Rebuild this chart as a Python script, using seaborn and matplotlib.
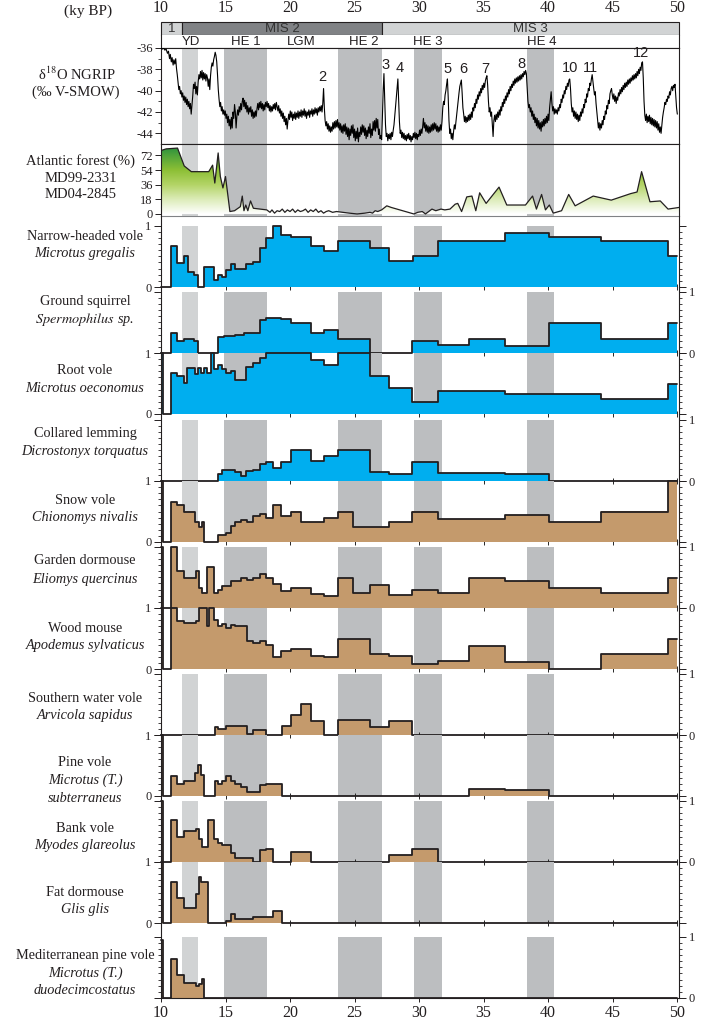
import numpy as np
import matplotlib
matplotlib.use('Agg')
import matplotlib.pyplot as plt
from matplotlib.colors import LinearSegmentedColormap
import seaborn as sns

sns.set_style('white')
plt.rcParams['font.family'] = ['Liberation Serif', 'DejaVu Serif']
plt.rcParams['mathtext.fontset'] = 'stix'
plt.rcParams['axes.linewidth'] = 0.8
plt.rcParams['axes.edgecolor'] = '#231f20'
plt.rcParams['axes.unicode_minus'] = False
SANS = ['Liberation Sans', 'DejaVu Sans']
INK = '#231f20'

# ---------------- data ----------------
x_ticks = [10, 15, 20, 25, 30, 35, 40, 45, 50]
mis_edges = [10, 11.6, 27.15, 50.15]
mis_labels = ['1', 'MIS 2', 'MIS 3']
mis_label_x = [10.8, 19.4, 38.6]
yd_band = (11.65, 12.9)
he_bands = [(14.9, 18.2), (23.7, 27.15), (29.6, 31.8), (38.4, 40.5)]
event_labels = ['YD', 'HE 1', 'LGM', 'HE 2', 'HE 3', 'HE 4']
event_x = [12.34, 16.6, 20.9, 25.7, 30.7, 39.55]
is_labels = ['2', '3', '4', '5', '6', '7', '8', '10', '11', '12']
is_x = [22.53, 27.44, 28.47, 32.2, 33.4, 35.17, 37.96, 41.7, 43.3, 47.2]
is_y = [-38.7, -37.6, -37.9, -38.0, -38.0, -38.0, -37.5, -37.9, -37.9, -36.5]

d18o_age = [
    10.00, 10.10, 10.20, 10.30, 10.40, 10.50, 10.58, 10.66, 10.72, 10.80,
    10.86, 10.94, 11.00, 11.07, 11.14, 11.20, 11.26, 11.32, 11.38, 11.44,
    11.50, 11.56, 11.62, 11.68, 11.74, 11.80, 11.86, 11.92, 11.98, 12.04,
    12.10, 12.16, 12.22, 12.28, 12.34, 12.40, 12.46, 12.52, 12.58, 12.64,
    12.70, 12.76, 12.82, 12.88, 12.94, 13.00, 13.06, 13.12, 13.18, 13.24,
    13.30, 13.36, 13.42, 13.48, 13.54, 13.60, 13.66, 13.72, 13.78, 13.84,
    13.90, 13.96, 14.02, 14.08, 14.14, 14.20, 14.26, 14.32, 14.38, 14.44,
    14.50, 14.56, 14.62, 14.68, 14.74, 14.80, 14.86, 14.92, 14.98, 15.04,
    15.10, 15.16, 15.22, 15.28, 15.34, 15.40, 15.46, 15.52, 15.58, 15.64,
    15.70, 15.76, 15.82, 15.88, 15.94, 16.00, 16.06, 16.12, 16.18, 16.24,
    16.30, 16.36, 16.42, 16.48, 16.54, 16.60, 16.66, 16.72, 16.78, 16.84,
    16.90, 16.96, 17.02, 17.08, 17.14, 17.20, 17.26, 17.32, 17.38, 17.44,
    17.50, 17.56, 17.62, 17.68, 17.74, 17.80, 17.86, 17.92, 17.98, 18.04,
    18.10, 18.16, 18.22, 18.28, 18.34, 18.40, 18.46, 18.52, 18.58, 18.64,
    18.70, 18.76, 18.82, 18.88, 18.94, 19.00, 19.06, 19.12, 19.18, 19.24,
    19.30, 19.36, 19.42, 19.48, 19.54, 19.60, 19.66, 19.72, 19.78, 19.84,
    19.90, 19.96, 20.02, 20.08, 20.14, 20.20, 20.26, 20.32, 20.38, 20.44,
    20.50, 20.56, 20.62, 20.68, 20.74, 20.80, 20.86, 20.92, 20.98, 21.04,
    21.10, 21.16, 21.22, 21.28, 21.34, 21.40, 21.46, 21.52, 21.58, 21.64,
    21.70, 21.76, 21.82, 21.88, 21.94, 22.00, 22.06, 22.12, 22.18, 22.24,
    22.30, 22.36, 22.42, 22.48, 22.54, 22.60, 22.66, 22.72, 22.78, 22.84,
    22.90, 22.96, 23.02, 23.08, 23.14, 23.20, 23.26, 23.32, 23.38, 23.44,
    23.50, 23.56, 23.62, 23.68, 23.74, 23.80, 23.86, 23.92, 23.98, 24.04,
    24.10, 24.16, 24.22, 24.28, 24.34, 24.40, 24.46, 24.52, 24.58, 24.64,
    24.70, 24.76, 24.82, 24.88, 24.94, 25.00, 25.06, 25.12, 25.18, 25.24,
    25.30, 25.36, 25.42, 25.48, 25.54, 25.60, 25.66, 25.72, 25.78, 25.84,
    25.90, 25.96, 26.02, 26.08, 26.14, 26.20, 26.26, 26.32, 26.38, 26.44,
    26.50, 26.56, 26.62, 26.68, 26.74, 26.80, 26.86, 26.92, 26.98, 27.04,
    27.10, 27.16, 27.22, 27.28, 27.34, 27.40, 27.46, 27.52, 27.58, 27.64,
    27.70, 27.76, 27.82, 27.88, 27.94, 28.00, 28.06, 28.12, 28.18, 28.24,
    28.30, 28.36, 28.42, 28.48, 28.54, 28.60, 28.66, 28.72, 28.78, 28.84,
    28.90, 28.96, 29.02, 29.08, 29.14, 29.20, 29.26, 29.32, 29.38, 29.44,
    29.50, 29.56, 29.62, 29.68, 29.74, 29.80, 29.86, 29.92, 29.98, 30.04,
    30.10, 30.16, 30.22, 30.28, 30.34, 30.40, 30.46, 30.52, 30.58, 30.64,
    30.70, 30.76, 30.82, 30.88, 30.94, 31.00, 31.06, 31.12, 31.18, 31.24,
    31.30, 31.36, 31.42, 31.48, 31.54, 31.60, 31.66, 31.72, 31.78, 31.84,
    31.90, 31.96, 32.02, 32.08, 32.14, 32.20, 32.26, 32.32, 32.38, 32.44,
    32.50, 32.56, 32.62, 32.68, 32.74, 32.80, 32.86, 32.92, 32.98, 33.04,
    33.10, 33.16, 33.22, 33.28, 33.34, 33.40, 33.46, 33.52, 33.58, 33.64,
    33.70, 33.76, 33.82, 33.88, 33.94, 34.00, 34.06, 34.12, 34.18, 34.24,
    34.30, 34.36, 34.42, 34.48, 34.54, 34.60, 34.66, 34.72, 34.78, 34.84,
    34.90, 34.96, 35.02, 35.08, 35.14, 35.20, 35.26, 35.32, 35.38, 35.44,
    35.50, 35.56, 35.62, 35.68, 35.74, 35.80, 35.86, 35.92, 35.98, 36.04,
    36.10, 36.16, 36.22, 36.28, 36.34, 36.40, 36.46, 36.52, 36.58, 36.64,
    36.70, 36.76, 36.82, 36.88, 36.94, 37.00, 37.06, 37.12, 37.18, 37.24,
    37.30, 37.36, 37.42, 37.48, 37.54, 37.60, 37.66, 37.72, 37.78, 37.84,
    37.90, 37.96, 38.02, 38.08, 38.14, 38.20, 38.26, 38.32, 38.38, 38.44,
    38.50, 38.56, 38.62, 38.68, 38.74, 38.80, 38.86, 38.92, 38.98, 39.04,
    39.10, 39.16, 39.22, 39.28, 39.34, 39.40, 39.46, 39.52, 39.58, 39.64,
    39.70, 39.76, 39.82, 39.88, 39.94, 40.00, 40.06, 40.12, 40.18, 40.24,
    40.30, 40.36, 40.42, 40.48, 40.54, 40.60, 40.66, 40.72, 40.78, 40.84,
    40.90, 40.96, 41.02, 41.08, 41.14, 41.20, 41.26, 41.32, 41.38, 41.44,
    41.50, 41.56, 41.62, 41.68, 41.74, 41.80, 41.86, 41.92, 41.98, 42.04,
    42.10, 42.16, 42.22, 42.28, 42.34, 42.40, 42.46, 42.52, 42.58, 42.64,
    42.70, 42.76, 42.82, 42.88, 42.94, 43.00, 43.06, 43.12, 43.18, 43.24,
    43.30, 43.36, 43.42, 43.48, 43.54, 43.60, 43.66, 43.72, 43.78, 43.84,
    43.90, 43.96, 44.02, 44.08, 44.14, 44.20, 44.26, 44.32, 44.38, 44.44,
    44.50, 44.56, 44.62, 44.68, 44.74, 44.80, 44.86, 44.92, 44.98, 45.04,
    45.10, 45.16, 45.22, 45.28, 45.34, 45.40, 45.46, 45.52, 45.58, 45.64,
    45.70, 45.76, 45.82, 45.88, 45.94, 46.00, 46.06, 46.12, 46.18, 46.24,
    46.30, 46.36, 46.42, 46.48, 46.54, 46.60, 46.66, 46.72, 46.78, 46.84,
    46.90, 46.96, 47.02, 47.08, 47.14, 47.20, 47.26, 47.32, 47.38, 47.44,
    47.50, 47.56, 47.62, 47.68, 47.74, 47.80, 47.86, 47.92, 47.98, 48.04,
    48.10, 48.16, 48.22, 48.28, 48.34, 48.40, 48.46, 48.52, 48.58, 48.64,
    48.70, 48.76, 48.82, 48.88, 48.94, 49.00, 49.06, 49.12, 49.18, 49.24,
    49.30, 49.36, 49.42, 49.48, 49.54, 49.60, 49.66, 49.72, 49.78, 49.84,
    49.90, 49.96, 50.02,
]
d18o_val = [
    -36.0, -36.1, -36.0, -36.2, -36.1, -36.5, -36.3, -37.0, -36.6, -37.3,
    -36.9, -37.6, -37.1, -37.5, -37.0, -37.9, -38.5, -39.2, -39.9, -39.6,
    -40.3, -40.0, -40.6, -40.2, -40.9, -40.5, -41.1, -40.6, -41.3, -40.8,
    -41.5, -41.0, -41.7, -41.2, -42.2, -41.4, -40.5, -39.4, -39.8, -39.2,
    -40.3, -39.6, -40.4, -39.2, -38.5, -38.9, -38.2, -38.8, -38.1, -39.0,
    -38.3, -38.9, -38.4, -39.1, -38.5, -38.8, -39.6, -38.9, -39.9, -38.6,
    -37.8, -37.4, -37.7, -37.1, -36.8, -36.4, -36.7, -37.3, -38.5, -39.9,
    -40.8, -41.5, -41.1, -41.9, -41.5, -42.2, -41.8, -42.3, -41.9, -42.6,
    -42.2, -43.0, -42.4, -43.3, -42.7, -43.6, -42.5, -43.5, -42.0, -42.6,
    -41.3, -42.0, -43.5, -42.4, -41.8, -42.3, -41.5, -42.0, -41.2, -41.8,
    -41.0, -40.7, -41.5, -40.9, -41.7, -41.1, -42.0, -41.4, -42.2, -41.6,
    -42.0, -41.5, -42.4, -41.8, -42.6, -42.0, -42.5, -41.9, -42.4, -41.7,
    -41.2, -41.8, -41.1, -41.6, -41.0, -41.7, -41.2, -41.9, -41.3, -41.8,
    -41.1, -41.5, -41.0, -41.6, -41.2, -41.9, -41.4, -42.0, -41.5, -41.9,
    -41.3, -41.7, -41.2, -41.8, -41.1, -41.5, -41.9, -41.4, -42.1, -41.7,
    -42.4, -41.9, -42.6, -42.1, -42.9, -42.4, -43.2, -42.6, -43.6, -42.8,
    -42.2, -42.7, -41.9, -42.5, -42.0, -42.8, -42.2, -42.6, -42.0, -42.7,
    -42.1, -42.5, -41.9, -42.6, -42.0, -42.4, -41.8, -42.5, -41.9, -42.3,
    -41.7, -42.4, -41.9, -42.6, -42.0, -42.3, -41.8, -42.5, -41.9, -42.2,
    -41.7, -42.4, -41.8, -42.2, -41.6, -42.1, -41.7, -42.3, -41.6, -42.0,
    -41.5, -41.9, -41.4, -42.0, -41.2, -39.8, -41.6, -42.8, -43.3, -42.9,
    -43.6, -43.1, -43.8, -43.3, -43.9, -43.4, -43.8, -43.0, -43.6, -42.9,
    -43.5, -42.8, -43.4, -42.7, -43.5, -43.0, -43.7, -43.1, -43.9, -43.3,
    -44.0, -43.2, -43.8, -43.1, -44.1, -43.4, -44.3, -43.5, -44.6, -43.6,
    -44.2, -43.3, -44.0, -43.2, -44.4, -43.6, -44.7, -43.8, -44.5, -43.5,
    -44.8, -43.9, -44.3, -43.4, -44.1, -43.2, -43.9, -43.3, -44.2, -43.5,
    -44.5, -43.7, -44.3, -43.4, -44.0, -43.1, -44.4, -43.6, -44.2, -42.9,
    -43.7, -42.8, -43.8, -42.6, -43.5, -42.7, -44.1, -43.6, -44.5, -44.2,
    -44.6, -42.5, -40.0, -38.4, -40.8, -43.2, -44.3, -44.0, -44.7, -44.1,
    -44.5, -44.0, -44.6, -43.9, -44.3, -43.7, -43.2, -42.4, -41.5, -40.6,
    -39.6, -38.9, -40.8, -42.9, -44.0, -43.7, -44.4, -43.9, -44.5, -44.0,
    -44.6, -44.2, -44.7, -44.1, -44.5, -44.0, -44.6, -44.2, -44.8, -44.3,
    -44.6, -44.0, -44.4, -43.9, -44.5, -44.0, -44.6, -44.1, -44.3, -43.7,
    -44.2, -43.6, -44.0, -43.4, -42.6, -43.5, -43.0, -43.8, -43.2, -43.9,
    -43.3, -44.0, -43.4, -43.9, -43.2, -43.8, -43.1, -43.7, -43.0, -43.6,
    -43.1, -43.8, -43.3, -43.9, -43.4, -43.8, -43.2, -43.7, -42.9, -41.6,
    -41.0, -41.3, -40.4, -40.0, -39.4, -38.9, -40.6, -42.8, -44.0, -43.6,
    -44.5, -44.0, -44.6, -43.8, -43.2, -43.6, -42.9, -42.3, -41.6, -40.8,
    -40.2, -39.6, -39.3, -39.0, -40.2, -41.6, -42.2, -42.9, -42.4, -43.0,
    -42.5, -42.9, -42.3, -42.8, -42.2, -42.7, -42.0, -42.5, -41.6, -41.9,
    -41.2, -41.6, -40.8, -41.2, -40.4, -40.8, -40.1, -40.5, -39.8, -40.2,
    -39.5, -39.9, -39.3, -39.7, -39.1, -38.8, -38.6, -39.5, -41.0, -42.0,
    -41.6, -42.4, -42.0, -43.2, -44.3, -42.8, -42.3, -42.9, -42.2, -42.7,
    -42.0, -42.5, -41.8, -42.3, -41.5, -41.9, -41.1, -41.5, -40.8, -41.2,
    -40.5, -40.9, -40.2, -40.6, -39.9, -40.3, -39.6, -40.0, -39.4, -39.7,
    -39.1, -39.5, -38.9, -39.3, -38.8, -39.2, -38.7, -39.1, -38.6, -39.0,
    -38.5, -38.9, -38.4, -38.7, -38.2, -38.5, -38.1, -38.4, -39.8, -41.0,
    -41.6, -41.3, -42.0, -41.6, -42.4, -41.9, -42.7, -42.2, -43.0, -42.5,
    -43.3, -42.6, -43.5, -42.8, -43.6, -43.0, -43.8, -42.9, -43.4, -42.7,
    -43.3, -42.6, -43.1, -42.4, -43.0, -42.2, -42.8, -41.6, -40.8, -40.1,
    -41.2, -41.9, -41.5, -42.2, -41.7, -42.1, -41.8, -42.2, -41.6, -41.9,
    -41.3, -41.6, -40.8, -41.1, -40.4, -40.7, -40.0, -40.3, -39.6, -39.9,
    -39.3, -39.6, -39.0, -38.9, -39.8, -41.2, -42.0, -41.6, -42.4, -41.9,
    -42.6, -42.0, -42.7, -42.2, -42.9, -42.3, -42.8, -42.0, -42.4, -41.7,
    -42.1, -41.3, -41.6, -40.8, -41.1, -40.3, -40.6, -39.8, -40.0, -39.3,
    -39.5, -38.9, -38.5, -39.2, -39.8, -40.4, -40.1, -41.2, -42.0, -42.9,
    -43.5, -43.0, -43.7, -43.1, -43.5, -42.8, -43.2, -42.4, -42.7, -41.9,
    -42.2, -41.4, -41.7, -40.9, -41.2, -40.3, -40.0, -39.8, -40.4, -40.8,
    -40.3, -41.0, -40.5, -41.2, -40.6, -40.9, -40.2, -40.5, -39.9, -40.3,
    -39.7, -40.1, -39.5, -39.9, -39.3, -39.7, -39.2, -39.6, -39.0, -39.4,
    -38.9, -39.3, -38.8, -39.1, -38.6, -39.0, -38.5, -38.9, -38.4, -38.8,
    -38.2, -38.6, -38.0, -38.4, -37.8, -38.1, -37.4, -37.3, -38.8, -41.0,
    -42.3, -42.8, -42.2, -43.0, -42.4, -42.9, -42.3, -43.1, -42.5, -43.2,
    -42.6, -43.3, -42.7, -43.4, -42.8, -43.5, -42.9, -43.7, -43.1, -43.9,
    -43.4, -44.0, -43.2, -42.5, -42.0, -41.6, -41.1, -41.3, -40.8, -41.0,
    -40.5, -40.7, -40.1, -40.4, -39.8, -39.6, -40.0, -39.5, -39.7, -39.4,
    -40.5, -41.6, -42.2,
]

forest_age = [10.0, 10.4, 11.28, 11.8, 12.35, 13.7, 14.0, 14.17, 14.43, 14.6,
              14.8, 15.0, 15.34, 15.7, 16.15, 16.3, 16.43, 16.57, 16.73, 16.94,
              17.16, 18.2, 18.45, 18.6, 18.8, 19.0, 19.2, 19.4, 19.6, 19.8,
              20.0, 20.2, 20.4, 20.6, 20.8, 21.0, 21.2, 21.4, 21.6, 21.8,
              22.0, 22.2, 22.4, 22.6, 22.8, 23.0, 23.3, 23.6, 24.1, 24.6,
              25.2, 25.8, 26.2, 26.4, 26.6, 26.8, 27.1, 27.5, 27.85, 29.6,
              29.9, 30.25, 30.5, 31.0, 31.3, 31.7, 32.0, 32.4, 32.8, 33.0,
              33.3, 33.7, 34.1, 34.4, 34.7, 35.2, 36.2, 36.8, 38.25, 38.8,
              39.1, 39.5, 39.8, 40.1, 40.4, 41.05, 41.6, 42.1, 43.5, 44.9,
              46.4, 46.9, 47.25, 47.9, 48.7, 49.3, 50.15]
forest_val = [78, 80, 81, 59, 52, 52, 60, 38, 75, 46,
              32, 46, 3, 4, 9, 22, 4, 11, 4, 16,
              7, 5, 2, 5, 1, 4, 3, 6, 2, 5,
              3, 6, 2, 5, 3, 4, 6, 2, 5, 3,
              6, 2, 4, 1, 3, 4, 2, 3, 2, 1,
              0, 1, 2, 1, 4, 3, 5, 10, 8, 0,
              2, 3, 0, 6, 4, 6, 5, 6, 12, 13,
              3, 21, 22, 4, 26, 13, 33, 11, 11, 22,
              6, 24, 5, 11, 1, 4, 24, 10, 22, 17,
              25, 27, 52, 15, 16, 6, 8]
forest_ticks = [0, 18, 36, 54, 72]
d18o_ticks = [-36, -38, -40, -42, -44]

# species: step edges (ky BP) and relative abundance of each interval
gregalis_edges = [10, 10.75, 11.23, 11.76, 12.08, 12.56, 12.88, 13.36, 14.1, 14.43,
                  14.75, 15.07, 15.45, 15.77, 16.2, 16.62, 17.1, 17.64, 18.17, 18.7,
                  19.29, 20.09, 21.64, 22.63, 23.7, 26.23, 27.7, 29.5, 31.47, 36.65,
                  40.07, 44.1, 49.33, 50]
gregalis_vals = [0, 0.665, 0.39, 0.5, 0.24, 0.19, 0, 0.32, 0.12, 0.19,
                 0.17, 0.27, 0.37, 0.30, 0.29, 0.37, 0.41, 0.64, 0.79, 0.99,
                 0.85, 0.82, 0.67, 0.59, 0.74, 0.63, 0.42, 0.5, 0.74, 0.88,
                 0.82, 0.74, 0.5]

spermophilus_edges = [10, 10.75, 11.23, 11.82, 12.56, 12.88, 14.43, 14.89, 15.77, 16.4,
                      17.1, 17.64, 18.17, 19.29, 20.09, 21.64, 22.63, 23.7, 26.23, 29.49,
                      31.47, 33.85, 36.65, 40.07, 44.13, 49.33, 50]
spermophilus_vals = [0, 0.32, 0.19, 0.23, 0.19, 0, 0.26, 0.28, 0.30, 0.32,
                     0.33, 0.53, 0.57, 0.55, 0.48, 0.32, 0.38, 0.23, 0, 0.19,
                     0.13, 0.23, 0.11, 0.48, 0.23, 0.48]

oeconomus_edges = [10, 10.16, 10.75, 11.23, 11.76, 12.03, 12.62, 12.83, 13.1, 13.36,
                   13.55, 13.9, 14.11, 14.38, 14.75, 15.07, 15.45, 15.77, 16.62, 17.1,
                   17.64, 18.17, 21.64, 22.63, 23.7, 26.23, 27.7, 29.49, 31.47, 36.65,
                   44.13, 49.33, 50]
oeconomus_vals = [1.0, 0, 0.67, 0.62, 0.51, 0.76, 0.66, 0.76, 0.67, 0.76,
                  0.67, 1.0, 0.73, 0.80, 0.73, 0.67, 0.70, 0.56, 0.77, 0.83,
                  0.92, 1.0, 0.89, 0.80, 1.0, 0.63, 0.43, 0.20, 0.38, 0.33,
                  0.24, 0.49]

dicrostonyx_edges = [10, 14.43, 14.75, 15.77, 16.2, 16.62, 17.1, 17.64, 18.17, 18.7,
                     19.29, 20.09, 21.64, 22.63, 23.7, 26.23, 27.7, 29.49, 31.47, 36.65,
                     40.07, 50]
dicrostonyx_vals = [0, 0.11, 0.18, 0.15, 0.08, 0.16, 0.18, 0.28, 0.31, 0.21,
                    0.31, 0.50, 0.33, 0.40, 0.50, 0.14, 0.11, 0.31, 0.13, 0.11,
                    0]

chionomys_edges = [10, 10.16, 10.75, 11.23, 11.82, 12.62, 12.94, 13.15, 13.36, 14.43,
                   15.02, 15.45, 15.77, 16.22, 16.68, 17.1, 17.64, 18.17, 18.7, 19.29,
                   20.09, 20.84, 22.63, 23.7, 24.9, 27.7, 29.49, 31.47, 36.65, 40.07,
                   44.13, 49.33, 50]
chionomys_vals = [1.0, 0, 0.66, 0.60, 0.50, 0.32, 0.25, 0.33, 0, 0.11,
                  0.14, 0.26, 0.33, 0.36, 0.32, 0.43, 0.46, 0.40, 0.60, 0.43,
                  0.50, 0.33, 0.40, 0.50, 0.25, 0.33, 0.50, 0.37, 0.44, 0.33,
                  0.50, 1.0]

eliomys_edges = [10, 10.16, 10.75, 11.23, 11.82, 12.75, 12.94, 13.15, 13.6, 14.1,
                 14.43, 14.75, 15.45, 16.22, 16.68, 17.1, 17.64, 18.17, 18.7, 19.29,
                 20.09, 21.64, 22.63, 23.7, 24.9, 26.23, 27.7, 29.49, 31.47, 33.85,
                 36.65, 40.07, 44.13, 49.33, 50]
eliomys_vals = [1.0, 0, 1.0, 0.60, 0.49, 0.60, 0.33, 0.24, 0.66, 0.24,
                0.30, 0.35, 0.44, 0.49, 0.45, 0.49, 0.55, 0.49, 0.39, 0.28,
                0.33, 0.22, 0.20, 0.49, 0.24, 0.38, 0.21, 0.29, 0.24, 0.49,
                0.44, 0.33, 0.24, 0.49]

apodemus_edges = [10, 10.16, 10.75, 11.23, 11.82, 12.75, 12.94, 13.55, 13.74, 14.11,
                  14.43, 14.75, 15.07, 15.45, 15.77, 16.22, 16.68, 17.1, 17.64, 18.17,
                  18.7, 19.29, 20.09, 21.64, 22.63, 23.7, 26.23, 27.7, 29.49, 31.47,
                  33.85, 36.65, 40.07, 44.13, 49.33, 50]
apodemus_vals = [1.0, 0, 1.0, 0.79, 0.75, 0.79, 1.0, 0.70, 1.0, 0.80,
                 0.71, 0.73, 0.67, 0.72, 0.70, 0.71, 0.46, 0.42, 0.46, 0.40,
                 0.19, 0.29, 0.33, 0.22, 0.19, 0.50, 0.25, 0.22, 0.09, 0.13,
                 0.38, 0.11, 0, 0.25, 0.50]

arvicola_edges = [10, 14.17, 14.43, 15.07, 16.68, 17.1, 18.17, 19.35, 20.09, 20.84,
                  21.64, 22.63, 23.7, 26.23, 27.7, 29.49, 50]
arvicola_vals = [0, 0.13, 0.10, 0.14, 0.01, 0.08, 0, 0.14, 0.32, 0.50,
                 0.22, 0, 0.25, 0.13, 0.22, 0]

subterraneus_edges = [10, 10.16, 10.75, 11.23, 11.82, 12.62, 12.88, 13.1, 13.36, 14.17,
                      14.43, 14.75, 15.07, 15.45, 15.77, 16.22, 16.68, 17.64, 18.17, 19.35,
                      33.85, 36.65, 40.07, 50]
subterraneus_vals = [1.0, 0, 0.33, 0.20, 0.24, 0.37, 0.51, 0.34, 0, 0.25,
                     0.20, 0.25, 0.32, 0.25, 0.20, 0.14, 0.07, 0.18, 0.20, 0,
                     0.12, 0.10, 0]

myodes_edges = [10, 10.16, 10.75, 11.23, 11.82, 12.75, 12.94, 13.15, 13.63, 14.11,
                14.43, 14.75, 15.45, 15.77, 16.22, 17.1, 17.64, 18.17, 18.7, 20.09,
                21.64, 27.7, 29.49, 31.47, 50]
myodes_vals = [1.0, 0, 0.68, 0.40, 0.50, 0.53, 0.38, 0.24, 0.68, 0.37,
               0.31, 0.27, 0.14, 0.06, 0.07, 0, 0.19, 0.21, 0, 0.17,
               0, 0.12, 0.21, 0]

glis_edges = [10, 10.16, 10.75, 11.23, 11.82, 12.75, 12.94, 13.1, 13.63, 15.07,
              15.45, 15.77, 16.22, 17.16, 18.7, 19.35, 50]
glis_vals = [1.0, 0, 0.67, 0.41, 0.25, 0.47, 0.76, 0.67, 0, 0.04,
             0.14, 0.06, 0.07, 0.10, 0.20, 0]

duodecim_edges = [10, 10.16, 10.75, 11.23, 11.82, 12.75, 12.94, 13.15, 13.36, 50]
duodecim_vals = [0.94, 0, 0.63, 0.38, 0.24, 0.19, 0.23, 0.31, 0]

BLUE = '#00aeef'
TAN = '#c49a6c'
species = [
    (['Narrow-headed vole'], ['Microtus gregalis'], gregalis_edges, gregalis_vals, BLUE),
    (['Ground squirrel'], [r'$\mathit{Spermophilus}$ sp.'], spermophilus_edges, spermophilus_vals, BLUE),
    (['Root vole'], ['Microtus oeconomus'], oeconomus_edges, oeconomus_vals, BLUE),
    (['Collared lemming'], ['Dicrostonyx torquatus'], dicrostonyx_edges, dicrostonyx_vals, BLUE),
    (['Snow vole'], ['Chionomys nivalis'], chionomys_edges, chionomys_vals, TAN),
    (['Garden dormouse'], ['Eliomys quercinus'], eliomys_edges, eliomys_vals, TAN),
    (['Wood mouse'], ['Apodemus sylvaticus'], apodemus_edges, apodemus_vals, TAN),
    (['Southern water vole'], ['Arvicola sapidus'], arvicola_edges, arvicola_vals, TAN),
    (['Pine vole'], ['Microtus (T.)', 'subterraneus'], subterraneus_edges, subterraneus_vals, TAN),
    (['Bank vole'], ['Myodes glareolus'], myodes_edges, myodes_vals, TAN),
    (['Fat dormouse'], ['Glis glis'], glis_edges, glis_vals, TAN),
    (['Mediterranean pine vole'], ['Microtus (T.)', 'duodecimcostatus'], duodecim_edges, duodecim_vals, TAN),
]

# ---------------- layout ----------------
W, H = 719, 1019
XMIN, XMAX = 10, 50.15
LEFT, RIGHT = 161, 679
YD_COL = '#d1d3d4'
HE_COL = '#bcbec0'

fig = plt.figure(figsize=(W / 100, H / 100), dpi=100)


def add_ax(top, bottom):
    return fig.add_axes([LEFT / W, 1 - bottom / H, (RIGHT - LEFT) / W, (bottom - top) / H])


def ftext(x, y, s, **kw):
    kw.setdefault('ha', 'center')
    kw.setdefault('va', 'center')
    kw.setdefault('color', INK)
    fig.text(x / W, 1 - y / H, s, **kw)


def draw_bands(ax, ymax=1.0):
    ax.axvspan(yd_band[0], yd_band[1], ymin=0, ymax=ymax, color=YD_COL, lw=0, zorder=0)
    for a, b in he_bands:
        ax.axvspan(a, b, ymin=0, ymax=ymax, color=HE_COL, lw=0, zorder=0)


# MIS bar
ax_m = add_ax(22, 35)
for a, b, lab, lx, col in zip(mis_edges[:-1], mis_edges[1:], mis_labels, mis_label_x,
                              ['#d1d3d4', '#808285', '#d1d3d4']):
    bars = ax_m.barh(0.5, b - a, left=a, height=1, color=col, edgecolor=INK, lw=0.8)
    for p in bars.patches:
        p.set_clip_on(False)
    ax_m.text(lx, 0.45, lab, ha='center', va='center', fontsize=9.5, family=SANS, color='#333333')
ax_m.set_xlim(XMIN, XMAX)
ax_m.set_ylim(0, 1)
ax_m.set_yticks([])
ax_m.xaxis.tick_top()
ax_m.set_xticks(x_ticks)
ax_m.set_xticklabels([str(t) for t in x_ticks])
ax_m.tick_params(axis='x', length=0, pad=4, labelsize=11.5, colors=INK)
for s in ax_m.spines.values():
    s.set_visible(False)
ftext(112, 11, '(ky BP)', ha='right', fontsize=11)

# event label row
ax_l = add_ax(35, 48)
ax_l.set_xlim(XMIN, XMAX)
ax_l.set_ylim(0, 1)
ax_l.set_xticks([])
ax_l.set_yticks([])
ax_l.spines['top'].set_visible(False)
for lab, x in zip(event_labels, event_x):
    ax_l.text(x, 0.45, lab, ha='center', va='center', fontsize=9.5, family=SANS, color=INK)

# d18O panel
ax_d = add_ax(48, 144)
draw_bands(ax_d)
sns.lineplot(x=d18o_age, y=d18o_val, ax=ax_d, color='black', lw=0.8,
             estimator=None, sort=False, errorbar=None, zorder=3)
ax_d.set_xlim(XMIN, XMAX)
ax_d.set_ylim(-45, -36)
ax_d.set_xticks([])
ax_d.set_yticks(d18o_ticks)
ax_d.set_yticks([-37, -39, -41, -43], minor=True)
ax_d.set_yticklabels([str(t) for t in d18o_ticks])
ax_d.tick_params(axis='y', which='major', left=True, length=4, width=0.7, labelsize=9, pad=2, colors=INK)
ax_d.tick_params(axis='y', which='minor', left=True, length=2, width=0.6)
ax_d.set_xlabel('')
ax_d.set_ylabel('')
for lab, x, y in zip(is_labels, is_x, is_y):
    ax_d.text(x, y, lab, ha='center', va='center', fontsize=10.5, family=SANS, color=INK, zorder=4)
ftext(77, 74, r'δ$^{18}$O NGRIP', fontsize=10.5)
ftext(76, 92, '(‰ V-SMOW)', fontsize=10.5)

# Atlantic forest panel
ax_f = add_ax(144, 216)
draw_bands(ax_f)
forest_cmap = LinearSegmentedColormap.from_list(
    'forest', [(0, '#ffffff'), (0.21, '#dcecb8'), (0.42, '#b3d466'),
               (0.63, '#8cbf35'), (0.84, '#4fa33a'), (1.0, '#1f8a3e')])
grad = np.linspace(0, 1, 256).reshape(-1, 1)
im = ax_f.imshow(grad, extent=[XMIN, XMAX, 0, 86], origin='lower', aspect='auto',
                 cmap=forest_cmap, zorder=1)
poly = ax_f.fill_between(forest_age, forest_val, 0, color='none', lw=0)
im.set_clip_path(poly.get_paths()[0], transform=ax_f.transData)
sns.lineplot(x=forest_age, y=forest_val, ax=ax_f, color=INK, lw=0.9,
             estimator=None, sort=False, errorbar=None, zorder=3)
ax_f.set_xlim(XMIN, XMAX)
ax_f.set_ylim(-2.5, 86)
ax_f.set_xticks([])
ax_f.set_yticks(forest_ticks)
ax_f.set_yticklabels([str(t) for t in forest_ticks])
ax_f.tick_params(axis='y', left=True, length=4, width=0.7, labelsize=9, pad=2, colors=INK)
ax_f.set_xlabel('')
ax_f.set_ylabel('')
ax_f.spines['bottom'].set_color('#808285')
ftext(80, 161, 'Atlantic forest (%)', fontsize=10.5)
ftext(81, 178, 'MD99-2331', fontsize=10.5)
ftext(81, 195, 'MD04-2845', fontsize=10.5)

# species panels
Z = [287, 353, 414, 481, 542, 608, 669, 735, 796, 862, 923, 998]
label_y = [236, 302, 370, 433, 500, 561, 628, 698, 762, 828, 892, 955]
H1 = 61.5
tops = [216] + Z[:-1]
for i, (common, latin, edges, vals, col) in enumerate(species):
    top, zero = tops[i], Z[i]
    ytop = max((zero - top) / H1, 1.0)
    ax = add_ax(top, zero)
    ax.patch.set_visible(False)
    draw_bands(ax, 1.0 / ytop)
    yv = list(vals) + [vals[-1]]
    ax.fill_between(edges, yv, 0, step='post', color=col, lw=0, zorder=1)
    sns.lineplot(x=edges, y=yv, ax=ax, drawstyle='steps-post', color=INK, lw=1.3,
                 estimator=None, sort=False, errorbar=None, zorder=3, clip_on=False)
    ax.set_xlim(XMIN, XMAX)
    ax.set_ylim(0, ytop)
    ax.set_xlabel('')
    ax.set_ylabel('')
    ax.spines['top'].set_visible(False)
    last = (i == len(species) - 1)
    ax.spines['bottom'].set_visible(last)
    ax.set_xticks(x_ticks)
    if last:
        ax.set_xticklabels([str(t) for t in x_ticks])
        ax.tick_params(axis='x', bottom=True, direction='out', length=3, width=0.7,
                       labelsize=11.5, pad=2, colors=INK)
    else:
        ax.set_xticklabels([])
        ax.tick_params(axis='x', bottom=True, direction='inout', length=4, width=0.7)
    ax.set_yticks([0, 1])
    ax.set_yticklabels(['0', '1'])
    ax.set_yticks([0.1, 0.2, 0.3, 0.4, 0.5, 0.6, 0.7, 0.8, 0.9], minor=True)
    left_lab = (i % 2 == 0)
    ax.tick_params(axis='y', which='both', left=True, right=True, direction='out',
                   labelleft=left_lab, labelright=not left_lab, colors=INK)
    ax.tick_params(axis='y', which='major', length=5, width=0.7, labelsize=9, pad=2)
    ax.tick_params(axis='y', which='minor', length=2.5, width=0.6)
    # labels
    y0 = label_y[i]
    for k, line in enumerate(common):
        ftext(85, y0 + 18 * k, line, fontsize=10.3)
    for k, line in enumerate(latin):
        ftext(85, y0 + 18 * (len(common) + k), line, fontsize=10.3, style='italic')

fig.savefig('out.png', dpi=100)
